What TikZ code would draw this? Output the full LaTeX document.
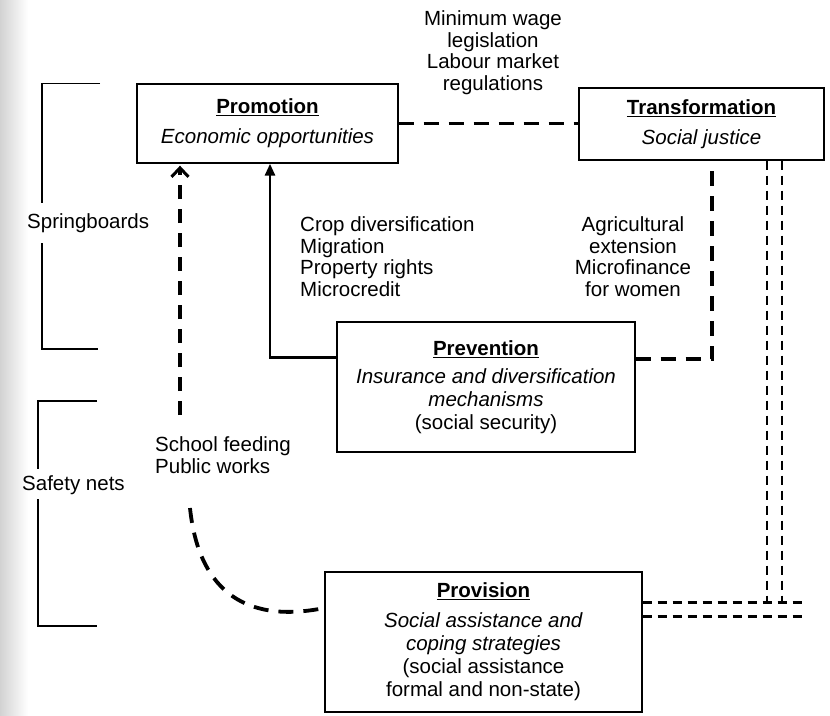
\documentclass[tikz,border=0pt]{standalone}
\usepackage{fontspec}
\setmainfont{Liberation Sans}
\usetikzlibrary{arrows.meta,calc}
\begin{document}
\begin{tikzpicture}[x=1pt,y=-1pt,
  every node/.style={font=\fontsize{20.5}{23}\selectfont},
  box/.style={draw, line width=1.4pt, rectangle, align=center, inner sep=0pt},
  lbl/.style={align=center, inner sep=0pt, font=\fontsize{20.5}{21.5}\selectfont},
  thickdash/.style={line width=3.8pt, dash pattern=on 15pt off 10pt},
  vdash/.style={line width=4pt, dash pattern=on 14pt off 10pt},
  dbl/.style={line width=2.6pt, dash pattern=on 9pt off 6pt},
  brk/.style={line width=1.4pt}]
\useasboundingbox (0,0) rectangle (830,715);
\fill[white] (0,0) rectangle (830,715);
\shade[left color=gray!35, right color=white] (0,0) rectangle (28,715);

% brackets
\draw[brk] (100,83.5) -- (42,83.5) -- (42,203);
\draw[brk] (42,243) -- (42,349) -- (98,349);
\draw[brk] (97,401) -- (38,401) -- (38,469);
\draw[brk] (38,499) -- (38,626) -- (97,626);

% boxes
\node[box, minimum width=261pt, minimum height=79pt] (Promotion) at (267.5,123.5)
  {\underline{\textbf{Promotion}}\\[7pt]\textit{Economic opportunities}};
\node[box, minimum width=245pt, minimum height=72pt] (Transformation) at (701.5,124)
  {\underline{\textbf{Transformation}}\\[7pt]\textit{Social justice}};
\node[box, minimum width=298pt, minimum height=130pt] (Prevention) at (486,387)
  {\underline{\textbf{Prevention}}\\[5pt]\textit{Insurance and diversification}\\\textit{mechanisms}\\(social security)};
\node[box, minimum width=317pt, minimum height=140pt] (Provision) at (483.5,642)
  {\underline{\textbf{Provision}}\\[7pt]\textit{Social assistance and}\\\textit{coping strategies}\\(social assistance\\formal and non-state)};

% labels
\node[lbl] (mw) at (493,52.5) {Minimum wage\\legislation\\Labour market\\regulations};
\node[lbl, align=left, anchor=west] (crop) at (300,256.5) {Crop diversification\\Migration\\Property rights\\Microcredit};
\node[lbl] (agri) at (633,256.5) {Agricultural\\extension\\Microfinance\\for women};
\node[lbl, align=left, anchor=west] (school) at (155,455) {School feeding\\Public works};
\node[lbl, anchor=west] (spring) at (27,223) {Springboards};
\node[lbl, anchor=west] (safety) at (22,485) {Safety nets};

% connectors
\draw[thickdash] (Promotion.east) -- (Promotion.east -| Transformation.west);
\draw[line width=2.8pt, -{Triangle[length=12pt,width=10pt]}]
  ([yshift=-36pt]Prevention.north west) -| ([xshift=2.5pt]Promotion.south);
\coordinate (sfTop) at (180,415);
\draw[vdash, -{Straight Barb[length=9pt,width=17pt,line width=3pt]}] (sfTop) -- ([yshift=-2pt]sfTop |- Promotion.south);
\coordinate (cvStart) at (190,508);
\draw[thickdash] (cvStart) .. controls (198,585) and (240,625) .. ([yshift=34pt]Provision.west);
\coordinate (xT) at (712,0);
\draw[thickdash] ([yshift=-38pt]Prevention.north east) -| (Transformation.south -| xT);
\coordinate (xDa) at (767,0);
\coordinate (xDb) at (782,0);
\coordinate (yD) at (0,603);
\draw[dbl] (Transformation.south -| xDa) -- (xDa |- yD);
\draw[dbl] (Transformation.south -| xDb) -- (xDb |- yD);
\draw[dbl] ([yshift=-31pt]Provision.north east) -- ++(160,0);
\draw[dbl] ([yshift=-45pt]Provision.north east) -- ++(160,0);
\end{tikzpicture}
\end{document}
